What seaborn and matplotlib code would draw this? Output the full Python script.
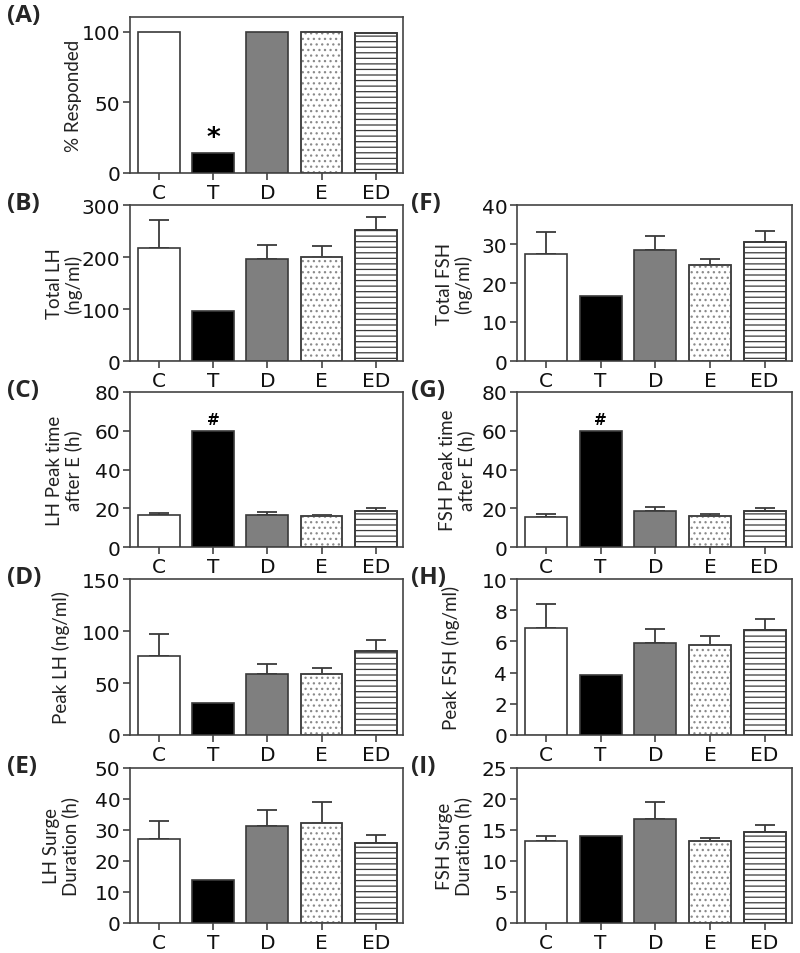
import numpy as np
import pandas as pd
import matplotlib
matplotlib.use("Agg")
import matplotlib.pyplot as plt
import seaborn as sns
from matplotlib.patches import Rectangle

# ========== DATOS ==========
groups = ["C", "T", "D", "E", "ED"]

resp_pct = [100, 14.3, 100, 100, 99.5]

total_lh = [217, 95.5, 197, 200, 251]
total_lh_sem = [55, 0, 27, 22, 26]

lh_peak_time = [16.4, 60, 16.5, 15.8, 18.4]
lh_peak_time_sem = [1.1, 0, 1.7, 0.9, 1.6]

peak_lh = [75.5, 31.2, 58.8, 58.2, 80.6]
peak_lh_sem = [21.8, 0, 9.6, 6.7, 10.4]

lh_duration = [27.1, 13.9, 31.3, 32.2, 25.8]
lh_duration_sem = [5.8, 0, 5.0, 6.8, 2.6]

total_fsh = [27.5, 16.7, 28.5, 24.5, 30.6]
total_fsh_sem = [5.5, 0, 3.6, 1.7, 2.8]

fsh_peak_time = [15.5, 60, 18.7, 16.0, 18.7]
fsh_peak_time_sem = [1.5, 0, 1.9, 1.2, 1.6]

peak_fsh = [6.87, 3.85, 5.91, 5.74, 6.74]
peak_fsh_sem = [1.5, 0, 0.9, 0.58, 0.67]

fsh_duration = [13.15, 14.0, 16.7, 13.15, 14.7]
fsh_duration_sem = [0.9, 0, 2.85, 0.6, 1.1]

# ========== ESTILO ==========
sns.set_style("ticks")
plt.rcParams["font.family"] = ["DejaVu Sans"]
plt.rcParams["hatch.linewidth"] = 0.9

dark = "#3a3a3a"
colores = ["white", "black", "#7f7f7f", "white", "white"]
tramas = [None, None, None, "...", "---"]

W, H = 800, 954
filas = [(18, 174), (206, 362), (393, 548), (580, 736), (769, 924)]
columnas = [(130, 403), (517, 792)]

# letra, ylabel, ytop, ultimo tick, paso, medias, sem, marca, col, fila, borde derecho del ylabel
paneles = [
    ("(A)", "% Responded", 110.6, 100, 50, resp_pct, None, "*", 0, 0, 82),
    ("(B)", "Total LH\n(ng/ml)", 300, 300, 100, total_lh, total_lh_sem, None, 0, 1, 82),
    ("(C)", "LH Peak time\nafter E (h)", 80, 80, 20, lh_peak_time, lh_peak_time_sem, "#", 0, 2, 82),
    ("(D)", "Peak LH (ng/ml)", 150, 150, 50, peak_lh, peak_lh_sem, None, 0, 3, 70),
    ("(E)", "LH Surge\nDuration (h)", 50, 50, 10, lh_duration, lh_duration_sem, None, 0, 4, 79),
    ("(F)", "Total FSH\n(ng/ml)", 40, 40, 10, total_fsh, total_fsh_sem, None, 1, 1, 472),
    ("(G)", "FSH Peak time\nafter E (h)", 80, 80, 20, fsh_peak_time, fsh_peak_time_sem, "#", 1, 2, 475),
    ("(H)", "Peak FSH (ng/ml)", 10, 10, 2, peak_fsh, peak_fsh_sem, None, 1, 3, 460),
    ("(I)", "FSH Surge\nDuration (h)", 25, 25, 5, fsh_duration, fsh_duration_sem, None, 1, 4, 472),
]

fig = plt.figure(figsize=(W / 100, H / 100), dpi=100)

for letra, ylabel, ytop, ymax, paso, medias, sem, marca, col, fila, borde in paneles:
    x0, x1 = columnas[col]
    y0, y1 = filas[fila]
    ax = fig.add_axes([x0 / W, 1 - y1 / H, (x1 - x0) / W, (y1 - y0) / H])

    df = pd.DataFrame({"grupo": groups, "valor": medias})
    sns.barplot(data=df, x="grupo", y="valor", hue="grupo", palette=colores,
                legend=False, width=0.77, edgecolor=dark, linewidth=1.2,
                saturation=1, ax=ax, zorder=3)

    # tramas: puntos grises para E, lineas para ED
    for patch, trama in zip(ax.patches, tramas):
        if trama is None:
            continue
        patch.set_hatch(trama)
        patch.set_edgecolor("#8a8a8a" if trama == "..." else dark)
        borde_rect = Rectangle(patch.get_xy(), patch.get_width(), patch.get_height(),
                               fill=False, edgecolor=dark, linewidth=1.2, zorder=4)
        ax.add_patch(borde_rect)

    if sem is not None:
        sup = np.array(sem, dtype=float)
        xs = np.arange(len(groups))
        m = sup > 0
        ax.errorbar(xs[m], np.array(medias)[m], yerr=[np.zeros(m.sum()), sup[m]],
                    fmt="none", ecolor=dark, elinewidth=1.3, capsize=7,
                    capthick=1.3, zorder=2)

    if marca is not None:
        i = groups.index("T")
        off = ymax * 0.08
        ax.text(i, medias[i] + off * (0.15 if marca == "*" else 0.3), marca,
                ha="center", va="bottom", fontweight="bold",
                fontsize=19 if marca == "*" else 11, color="black")

    ax.set_xlim(-0.53, 4.5)
    ax.set_ylim(0, ytop)
    ax.set_yticks(np.arange(0, ymax + paso / 2, paso))
    ax.set_xlabel("")
    ax.set_ylabel(ylabel, fontsize=13.5, family=["Lato", "DejaVu Sans"],
                  color="#222222", linespacing=1.05)
    ax.yaxis.set_label_coords((borde - x0) / (x1 - x0), 0.5)

    for lado in ["left", "right", "top", "bottom"]:
        ax.spines[lado].set_visible(True)
        ax.spines[lado].set_color("#444444")
        ax.spines[lado].set_linewidth(1.2)
    ax.tick_params(axis="both", direction="out", length=5, width=1.2,
                   color="#444444", labelsize=14.5, labelcolor="#111111", pad=2)

    fig.text(7 / W if col == 0 else 411 / W, 1 - (y0 - 2) / H, letra,
             fontsize=17.5, fontweight="bold", family=["Open Sans", "DejaVu Sans"],
             ha="left", va="center")

fig.savefig("out.png", dpi=100)
plt.close()
